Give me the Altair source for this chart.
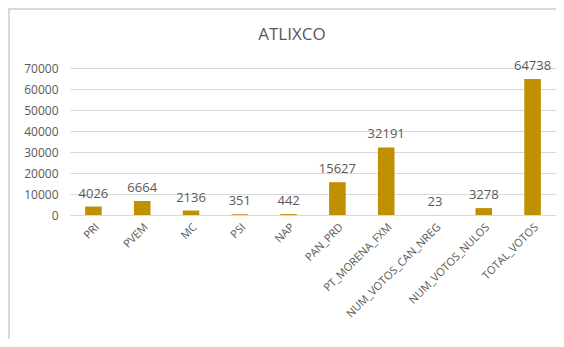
import altair as alt
import pandas as pd

categories = ["PRI", "PVEM", "MC", "PSI", "NAP", "PAN_PRD", "PT_MORENA_FXM",
              "NUM_VOTOS_CAN_NREG", "NUM_VOTOS_NULOS", "TOTAL_VOTOS"]
values = [4026, 6664, 2136, 351, 442, 15627, 32191, 23, 3278, 64738]
title_text = ["ATLIXCO"]

df = pd.DataFrame({"cat": categories, "val": values})
tdf = pd.DataFrame({"t": title_text})

GREY = "#595959"
GOLD = "#BF9000"

x = alt.X("cat:N", sort=categories, title=None,
          scale=alt.Scale(paddingInner=0.66, paddingOuter=0.31),
          axis=alt.Axis(labelAngle=-45, labelColor=GREY, labelFontSize=11,
                        labelFont="Open Sans", ticks=False, domainColor="#d9d9d9",
                        labelPadding=6, labelLimit=300))
y = alt.Y("val:Q", title=None,
          scale=alt.Scale(domain=[0, 70000], nice=False),
          axis=alt.Axis(values=[0, 10000, 20000, 30000, 40000, 50000, 60000, 70000],
                        format="d", labelColor=GREY, labelFontSize=12,
                        labelFont="Open Sans", ticks=False, domain=False,
                        gridColor="#d9d9d9", labelPadding=12))

base = alt.Chart(df)

bars = base.mark_bar(color=GOLD).encode(x=x, y=y)
labels = base.mark_text(baseline="alphabetic", dy=-9, color=GREY, fontSize=13,
                        font="Open Sans").encode(x=x, y=y, text="val:Q")

frame = base.mark_rect(fill=None, stroke="#d9d9d9", strokeWidth=1.5).encode(
    x=alt.value(-61), y=alt.value(-59), x2=alt.value(600), y2=alt.value(400)
)

title = alt.Chart(tdf).mark_text(fontSize=17, font="Open Sans", color=GREY,
                                 baseline="middle", align="center").encode(
    x=alt.value(222), y=alt.value(-33), text="t:N"
)

chart = alt.layer(frame, bars, labels, title).properties(
    width=486, height=147,
    autosize=alt.AutoSizeParams(type="none"),
    padding={"left": 62, "top": 60, "right": 0, "bottom": 124},
).configure_view(stroke=None)

chart.save("out.html", embed_options={"renderer": "svg", "actions": False})
